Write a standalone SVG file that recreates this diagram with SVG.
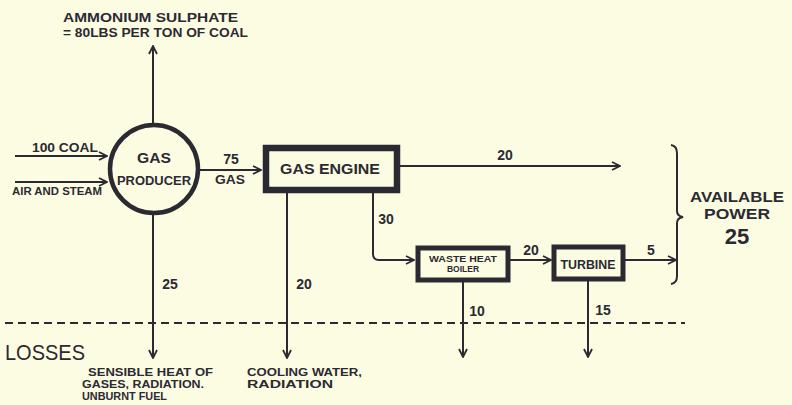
<svg xmlns="http://www.w3.org/2000/svg" width="792" height="405" viewBox="0 0 792 405">
<style>
.ln{stroke:#2b2a33;stroke-width:2;fill:none}
.t{font-family:"Liberation Sans","DejaVu Sans",sans-serif;font-weight:bold;fill:#2b2a33}
.thin{font-weight:normal}
</style>
<defs>
<marker id="ah" viewBox="0 0 10 10" refX="9" refY="5" markerWidth="10" markerHeight="10" markerUnits="userSpaceOnUse" orient="auto">
<path d="M1,1 L9,5 L1,9" fill="none" stroke="#2b2a33" stroke-width="1.8"/>
</marker>
</defs>
<rect width="792" height="405" fill="#fcfce2"/>

<g id="connectors">
<path class="ln" d="M153,124 L153,46" marker-end="url(#ah)"/>
<path class="ln" d="M15,156 L107,156" marker-end="url(#ah)"/>
<path class="ln" d="M15,182 L107,182" marker-end="url(#ah)"/>
<path class="ln" d="M199,170 L261,170" marker-end="url(#ah)"/>
<path class="ln" d="M400,166 L620,166" marker-end="url(#ah)"/>
<path class="ln" d="M373,192 L373,254 Q373,260 379,260 L414,260" marker-end="url(#ah)"/>
<path class="ln" d="M510,260 L551,260" marker-end="url(#ah)"/>
<path class="ln" d="M625,260 L676,260" marker-end="url(#ah)"/>
<path class="ln" d="M153,215 L153,358" marker-end="url(#ah)"/>
<path class="ln" d="M287,192 L287,358" marker-end="url(#ah)"/>
<path class="ln" d="M463,282 L463,357" marker-end="url(#ah)"/>
<path class="ln" d="M588,281 L588,357" marker-end="url(#ah)"/>
<path class="ln" d="M5,323 L685,323" stroke-dasharray="8 5"/>
<path class="ln" d="M671,145 Q677,146 677,153 L677,211 Q677,216 683,217 Q677,218 677,223 L677,276 Q677,283 671,284"/>
</g>

<g id="ammonium">
<text class="t" x="63" y="22" font-size="13" textLength="175" lengthAdjust="spacingAndGlyphs">AMMONIUM SULPHATE</text>
<text class="t" x="63" y="37" font-size="12" textLength="185" lengthAdjust="spacingAndGlyphs">= 80LBS PER TON OF COAL</text>
</g>

<g id="inputs">
<text class="t" x="32" y="152" font-size="12" textLength="66" lengthAdjust="spacingAndGlyphs">100 COAL</text>
<text class="t" x="12" y="195" font-size="11" textLength="90" lengthAdjust="spacingAndGlyphs">AIR AND STEAM</text>
</g>

<g id="gas-producer">
<circle cx="154" cy="169" r="44" fill="none" stroke="#2b2a33" stroke-width="4.5"/>
<text class="t" x="154" y="163" font-size="15" text-anchor="middle" textLength="34" lengthAdjust="spacingAndGlyphs">GAS</text>
<text class="t" x="154" y="185" font-size="13" text-anchor="middle" textLength="74" lengthAdjust="spacingAndGlyphs">PRODUCER</text>
</g>

<g id="gas-label">
<text class="t" x="231" y="164" font-size="14" text-anchor="middle">75</text>
<text class="t" x="230" y="184" font-size="13" text-anchor="middle" textLength="30" lengthAdjust="spacingAndGlyphs">GAS</text>
</g>

<g id="gas-engine">
<rect x="266" y="148" width="131" height="42" fill="none" stroke="#2b2a33" stroke-width="6.5"/>
<text class="t" x="330" y="174" font-size="15" text-anchor="middle" textLength="100" lengthAdjust="spacingAndGlyphs">GAS ENGINE</text>
</g>

<g id="labels">
<text class="t" x="505" y="160" font-size="14" text-anchor="middle">20</text>
<text class="t" x="386" y="224" font-size="14" text-anchor="middle">30</text>
<text class="t" x="531" y="255" font-size="14" text-anchor="middle">20</text>
<text class="t" x="651" y="255" font-size="14" text-anchor="middle">5</text>
<text class="t" x="170" y="289" font-size="14" text-anchor="middle">25</text>
<text class="t" x="304" y="289" font-size="14" text-anchor="middle">20</text>
<text class="t" x="477" y="316" font-size="14" text-anchor="middle">10</text>
<text class="t" x="603" y="315" font-size="14" text-anchor="middle">15</text>
</g>

<g id="waste-heat-boiler">
<rect x="418" y="248" width="90" height="32" fill="none" stroke="#2b2a33" stroke-width="5"/>
<text class="t" x="463" y="262" font-size="8.5" text-anchor="middle" textLength="68" lengthAdjust="spacingAndGlyphs">WASTE HEAT</text>
<text class="t" x="463" y="272" font-size="8.5" text-anchor="middle">BOILER</text>
</g>

<g id="turbine">
<rect x="554" y="247" width="69" height="32" fill="none" stroke="#2b2a33" stroke-width="5"/>
<text class="t" x="588" y="269" font-size="13" text-anchor="middle" textLength="55" lengthAdjust="spacingAndGlyphs">TURBINE</text>
</g>

<g id="available-power">
<text class="t" x="737" y="202" font-size="14" text-anchor="middle" textLength="94" lengthAdjust="spacingAndGlyphs">AVAILABLE</text>
<text class="t" x="737" y="219" font-size="14" text-anchor="middle" textLength="66" lengthAdjust="spacingAndGlyphs">POWER</text>
<text class="t" x="737" y="244" font-size="22" text-anchor="middle">25</text>
</g>

<g id="losses">
<text class="t thin" x="5" y="360" font-size="22" textLength="80" lengthAdjust="spacingAndGlyphs">LOSSES</text>
<text class="t" x="88" y="376" font-size="11.5" textLength="125" lengthAdjust="spacingAndGlyphs">SENSIBLE HEAT OF</text>
<text class="t" x="82" y="388" font-size="11.5" textLength="122" lengthAdjust="spacingAndGlyphs">GASES, RADIATION.</text>
<text class="t" x="82" y="400" font-size="11.5" textLength="85" lengthAdjust="spacingAndGlyphs">UNBURNT FUEL</text>
<text class="t" x="247" y="376" font-size="11.5" textLength="115" lengthAdjust="spacingAndGlyphs">COOLING WATER,</text>
<text class="t" x="247" y="388" font-size="11.5" textLength="86" lengthAdjust="spacingAndGlyphs">RADIATION</text>
</g>
</svg>
